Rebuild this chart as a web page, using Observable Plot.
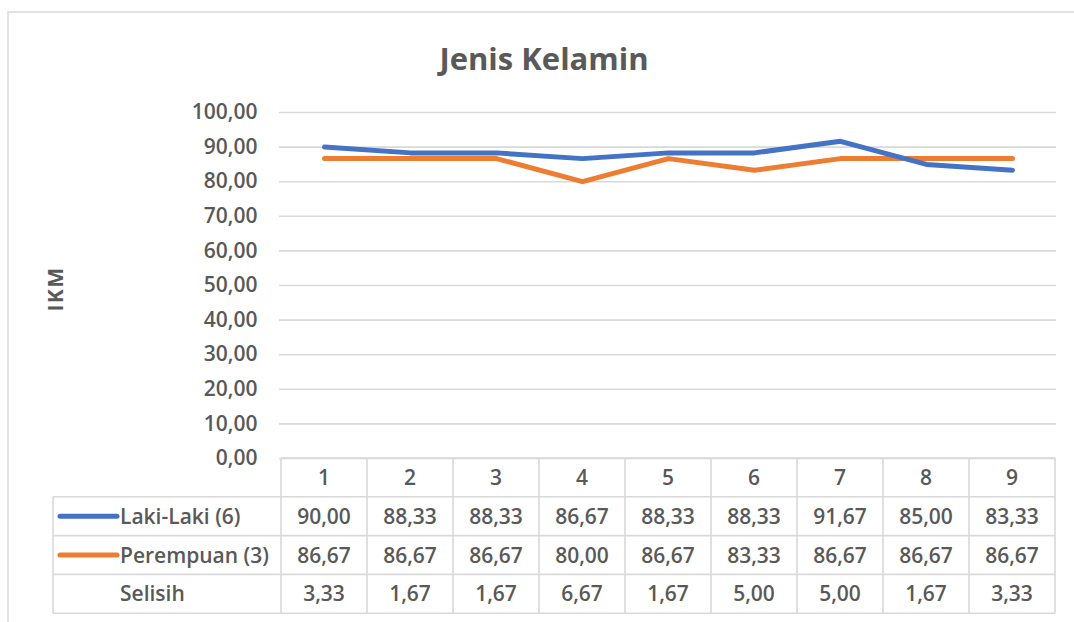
<!DOCTYPE html>
<html>
<head>
<meta charset="utf-8">
<script src="https://cdn.jsdelivr.net/npm/d3@7"></script>
<script src="https://cdn.jsdelivr.net/npm/@observablehq/plot@0.6"></script>
<style>
  html, body { margin: 0; padding: 0; background: #fff; overflow: hidden; }
  #chart svg { display: block; }
</style>
</head>
<body>
<div id="chart"></div>
<script>
// ---- data ----
const title = "Jenis Kelamin";
const yLabel = "IKM";
const categories = ["1", "2", "3", "4", "5", "6", "7", "8", "9"];
const lakiLaki = [90.00, 88.33, 88.33, 86.67, 88.33, 88.33, 91.67, 85.00, 83.33];
const perempuan = [86.67, 86.67, 86.67, 80.00, 86.67, 83.33, 86.67, 86.67, 86.67];
const selisih = [3.33, 1.67, 1.67, 6.67, 1.67, 5.00, 5.00, 1.67, 3.33];
const seriesNames = ["Laki-Laki (6)", "Perempuan (3)", "Selisih"];
const seriesColors = ["#4472C4", "#ED7D31", null];
const yTicks = [0, 10, 20, 30, 40, 50, 60, 70, 80, 90, 100];

// ---- helpers ----
const fmt = d => d.toFixed(2).replace(".", ",");
const textColor = "#595959";
const gridColor = "#d9d9d9";
const font = "'Open Sans', 'Noto Sans', sans-serif";

const rows = [lakiLaki, perempuan, selisih];
const lakiData = categories.map((c, i) => ({cat: c, v: lakiLaki[i]}));
const perData = categories.map((c, i) => ({cat: c, v: perempuan[i]}));

// custom mark: chart border, title, y label and the data table
function decorations(index, scales, values, dim) {
  const g = d3.create("svg:g").attr("font-family", font);
  // outer chart border
  g.append("rect")
    .attr("x", 8).attr("y", 12).attr("width", 1100).attr("height", 650)
    .attr("fill", "none").attr("stroke", gridColor).attr("stroke-width", 1.5);
  // title
  g.append("text")
    .attr("x", 544).attr("y", 70)
    .attr("text-anchor", "middle")
    .attr("font-size", 31).attr("font-weight", 700)
    .attr("fill", textColor)
    .text(title);
  // y label
  g.append("text")
    .attr("transform", "translate(63,289) rotate(-90)")
    .attr("text-anchor", "middle")
    .attr("font-size", 21).attr("font-weight", 700)
    .attr("letter-spacing", 1.5)
    .attr("fill", textColor)
    .text(yLabel);

  // table
  const xs = categories.map(c => scales.x(c));
  const step = xs[1] - xs[0];
  const left = xs[0] - step / 2;
  const right = xs[xs.length - 1] + step / 2;
  const top = dim.height - dim.marginBottom;
  const rowH = 38.8;
  const tableLeft = 53;
  const lines = g.append("g").attr("stroke", gridColor).attr("stroke-width", 1.6).attr("fill", "none");
  // header top
  lines.append("line").attr("x1", left).attr("x2", right).attr("y1", top).attr("y2", top);
  for (let r = 1; r <= rows.length + 1; r++) {
    const y = top + r * rowH;
    lines.append("line").attr("x1", tableLeft).attr("x2", right).attr("y1", y).attr("y2", y);
  }
  // vertical lines
  for (let i = 0; i <= categories.length; i++) {
    const x = left + i * step;
    lines.append("line").attr("x1", x).attr("x2", x).attr("y1", top).attr("y2", top + (rows.length + 1) * rowH);
  }
  lines.append("line").attr("x1", tableLeft).attr("x2", tableLeft)
    .attr("y1", top + rowH).attr("y2", top + (rows.length + 1) * rowH);

  const txt = g.append("g").attr("font-size", 21).attr("font-weight", 600).attr("fill", textColor);
  // header
  categories.forEach((c, i) => {
    txt.append("text").attr("x", xs[i]).attr("y", top + rowH / 2)
      .attr("dy", "0.36em").attr("text-anchor", "middle").text(c);
  });
  // rows
  rows.forEach((arr, r) => {
    const yc = top + (r + 1.5) * rowH;
    arr.forEach((v, i) => {
      txt.append("text").attr("x", xs[i]).attr("y", yc)
        .attr("dy", "0.36em").attr("text-anchor", "middle").text(fmt(v));
    });
    if (seriesColors[r]) {
      g.append("line").attr("x1", 60).attr("x2", 117).attr("y1", yc).attr("y2", yc)
        .attr("stroke", seriesColors[r]).attr("stroke-width", 5).attr("stroke-linecap", "round");
    }
    txt.append("text").attr("x", 120).attr("y", yc).attr("dy", "0.36em")
      .attr("text-anchor", "start")
      .text(seriesNames[r]);
  });
  return g.node();
}

const chart = Plot.plot({
  width: 1074,
  height: 622,
  marginLeft: 279,
  marginRight: 18,
  marginTop: 112,
  marginBottom: 164,
  style: {fontFamily: font, fontSize: "21px", fontWeight: 600, color: textColor, background: "#fff"},
  x: {type: "point", domain: categories, padding: 0.5, axis: null},
  y: {domain: [0, 100], axis: null},
  marks: [
    Plot.gridY(yTicks, {stroke: gridColor, strokeOpacity: 1, strokeWidth: 1.6}),
    Plot.axisY(yTicks, {tickSize: 0, tickPadding: 22, tickFormat: fmt, label: null, fill: textColor, fontSize: 21, fontWeight: 600}),
    Plot.line(perData, {x: "cat", y: "v", stroke: seriesColors[1], strokeWidth: 5, strokeLinejoin: "round", strokeLinecap: "round"}),
    Plot.line(lakiData, {x: "cat", y: "v", stroke: seriesColors[0], strokeWidth: 5, strokeLinejoin: "round", strokeLinecap: "round"}),
    decorations
  ]
});
document.getElementById("chart").append(chart);
</script>
</body>
</html>
